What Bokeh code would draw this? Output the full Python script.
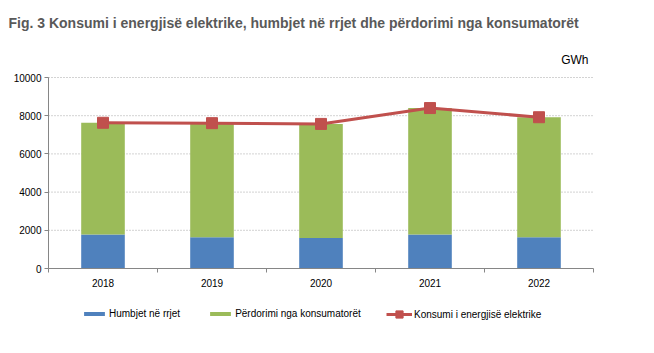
from bokeh.plotting import figure
from bokeh.models import (ColumnDataSource, Legend, LegendItem, Label, FixedTicker,
                          Range1d)
from bokeh.embed import file_html
from bokeh.resources import INLINE

years = ["2018", "2019", "2020", "2021", "2022"]
losses = [1780, 1640, 1600, 1780, 1640]
consumers = [5850, 5970, 5970, 6620, 6280]
total = [7630, 7610, 7570, 8400, 7920]
y_ticks = [0, 2000, 4000, 6000, 8000, 10000]

W, H = 654, 353
# plot region in pixels (from the reference)
left_px, right_px, top_px, bottom_px = 48, 593, 77, 268
n = len(years)
xppu = (right_px - left_px) / n              # pixels per category
yppu = (bottom_px - top_px) / y_ticks[-1]    # pixels per GWh

x0, x1 = 0.5, n + 0.5
xr = Range1d(x0 - left_px / xppu, x1 + (W - right_px) / xppu)
yr = Range1d(-(H - bottom_px) / yppu, y_ticks[-1] + top_px / yppu)

xpos = list(range(1, n + 1))
src = ColumnDataSource(dict(x=xpos, losses=losses, consumers=consumers, total=total))

p = figure(width=W, height=H, output_backend="svg", toolbar_location=None,
           x_range=xr, y_range=yr,
           min_border_left=0, min_border_right=0, min_border_top=0, min_border_bottom=0)
p.outline_line_color = None
p.background_fill_color = "white"
p.border_fill_color = "white"
p.xgrid.visible = False
p.ygrid.visible = False

blue = "#4F81BD"
green = "#9BBB59"
red = "#C0504D"

# dotted horizontal gridlines
grid_y = [t for t in y_ticks if t > 0]
p.segment(x0=[x0] * len(grid_y), x1=[x1] * len(grid_y), y0=grid_y, y1=grid_y,
          line_color="#A6A6A6", line_dash="1 2", line_width=1)

rs = p.vbar_stack(["losses", "consumers"], x="x", width=0.4, source=src,
                  color=[blue, green], line_color=None)
ln = p.line("x", "total", source=src, line_color=red, line_width=3)
mk = p.scatter("x", "total", source=src, marker="square", size=11,
               fill_color=red, line_color=red)

# axes drawn at fixed data locations
xa = p.xaxis[0]
xa.fixed_location = 0
xa.bounds = (x0, x1)
xa.ticker = FixedTicker(ticks=xpos, minor_ticks=[i + 0.5 for i in range(0, n + 1)])
xa.major_label_overrides = {i: y for i, y in zip(xpos, years)}
xa.major_tick_line_color = None
xa.major_tick_in = 0
xa.major_tick_out = 0
xa.minor_tick_line_color = "#868686"
xa.minor_tick_in = 0
xa.minor_tick_out = 4
xa.axis_line_color = "#868686"
xa.major_label_text_font = "Liberation Sans"
xa.major_label_text_font_size = "10px"
xa.major_label_text_color = "#000000"
xa.major_label_standoff = 6

ya = p.yaxis[0]
ya.fixed_location = x0
ya.bounds = (0, y_ticks[-1])
ya.ticker = FixedTicker(ticks=y_ticks)
ya.minor_tick_line_color = None
ya.major_tick_line_color = "#868686"
ya.major_tick_in = 0
ya.major_tick_out = 4
ya.axis_line_color = "#868686"
ya.major_label_text_font = "Liberation Sans"
ya.major_label_text_font_size = "10px"
ya.major_label_text_color = "#000000"
ya.major_label_standoff = 3

# title and unit
p.add_layout(Label(x=8, y=H - 22, x_units="screen", y_units="screen",
                   text="Fig. 3 Konsumi i energjisë elektrike, humbjet në rrjet dhe përdorimi nga konsumatorët",
                   text_font="Liberation Sans", text_font_style="bold",
                   text_font_size="14px", text_color="#595959", text_baseline="middle"))
p.add_layout(Label(x=588, y=H - 59, x_units="screen", y_units="screen", text="GWh",
                   text_font="Liberation Sans", text_font_size="12px", text_color="#000000",
                   text_align="right", text_baseline="middle"))


def style_legend(lg):
    lg.background_fill_alpha = 0
    lg.border_line_color = None
    lg.label_text_font = "Liberation Sans"
    lg.label_text_font_size = "10px"
    lg.label_text_color = "#000000"
    lg.glyph_width = 26
    lg.label_standoff = 2
    lg.spacing = 27
    lg.padding = 0
    lg.margin = 0
    lg.label_height = 10


leg_bars = Legend(items=[
    LegendItem(label="Humbjet në rrjet", renderers=[rs[0]]),
    LegendItem(label="Përdorimi nga konsumatorët", renderers=[rs[1]]),
], orientation="horizontal", location=(81, 34))
style_legend(leg_bars)
leg_bars.glyph_height = 5
p.add_layout(leg_bars, "center")

leg_line = Legend(items=[
    LegendItem(label="Konsumi i energjisë elektrike", renderers=[ln, mk]),
], orientation="horizontal", location=(386, 30))
style_legend(leg_line)
leg_line.glyph_height = 18
p.add_layout(leg_line, "center")

open("out.html", "w").write(file_html(p, INLINE))
